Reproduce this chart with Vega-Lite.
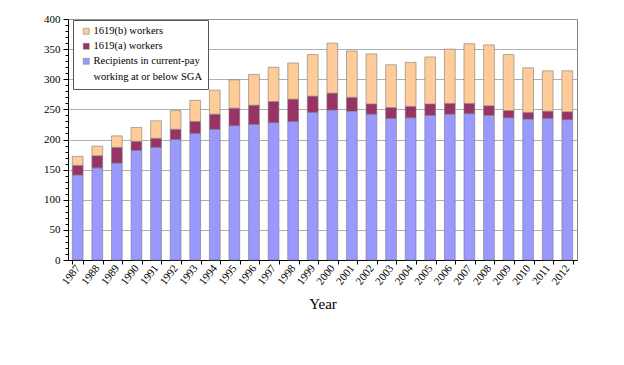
{
  "$schema": "https://vega.github.io/schema/vega-lite/v6.json",
  "autosize": {"type": "none"},
  "padding": {"left": 68, "top": 19, "right": 47, "bottom": 105},
  "width": 509,
  "height": 241,
  "background": "white",
  "config": {
    "font": "Liberation Serif",
    "view": {"stroke": "#808080", "strokeWidth": 1}
  },
  "data": {
    "values": [
      {"year": "1987", "series": "Recipients in current-pay|working at or below SGA", "k": 1, "value": 141},
      {"year": "1987", "series": "1619(a) workers", "k": 2, "value": 16},
      {"year": "1987", "series": "1619(b) workers", "k": 3, "value": 15},
      {"year": "1988", "series": "Recipients in current-pay|working at or below SGA", "k": 1, "value": 153},
      {"year": "1988", "series": "1619(a) workers", "k": 2, "value": 20},
      {"year": "1988", "series": "1619(b) workers", "k": 3, "value": 16},
      {"year": "1989", "series": "Recipients in current-pay|working at or below SGA", "k": 1, "value": 161},
      {"year": "1989", "series": "1619(a) workers", "k": 2, "value": 26},
      {"year": "1989", "series": "1619(b) workers", "k": 3, "value": 19},
      {"year": "1990", "series": "Recipients in current-pay|working at or below SGA", "k": 1, "value": 182},
      {"year": "1990", "series": "1619(a) workers", "k": 2, "value": 15},
      {"year": "1990", "series": "1619(b) workers", "k": 3, "value": 23},
      {"year": "1991", "series": "Recipients in current-pay|working at or below SGA", "k": 1, "value": 187},
      {"year": "1991", "series": "1619(a) workers", "k": 2, "value": 15},
      {"year": "1991", "series": "1619(b) workers", "k": 3, "value": 29},
      {"year": "1992", "series": "Recipients in current-pay|working at or below SGA", "k": 1, "value": 200},
      {"year": "1992", "series": "1619(a) workers", "k": 2, "value": 17},
      {"year": "1992", "series": "1619(b) workers", "k": 3, "value": 31},
      {"year": "1993", "series": "Recipients in current-pay|working at or below SGA", "k": 1, "value": 210},
      {"year": "1993", "series": "1619(a) workers", "k": 2, "value": 20},
      {"year": "1993", "series": "1619(b) workers", "k": 3, "value": 35},
      {"year": "1994", "series": "Recipients in current-pay|working at or below SGA", "k": 1, "value": 217},
      {"year": "1994", "series": "1619(a) workers", "k": 2, "value": 25},
      {"year": "1994", "series": "1619(b) workers", "k": 3, "value": 40},
      {"year": "1995", "series": "Recipients in current-pay|working at or below SGA", "k": 1, "value": 223},
      {"year": "1995", "series": "1619(a) workers", "k": 2, "value": 29},
      {"year": "1995", "series": "1619(b) workers", "k": 3, "value": 47},
      {"year": "1996", "series": "Recipients in current-pay|working at or below SGA", "k": 1, "value": 225},
      {"year": "1996", "series": "1619(a) workers", "k": 2, "value": 32},
      {"year": "1996", "series": "1619(b) workers", "k": 3, "value": 51},
      {"year": "1997", "series": "Recipients in current-pay|working at or below SGA", "k": 1, "value": 228},
      {"year": "1997", "series": "1619(a) workers", "k": 2, "value": 35},
      {"year": "1997", "series": "1619(b) workers", "k": 3, "value": 57},
      {"year": "1998", "series": "Recipients in current-pay|working at or below SGA", "k": 1, "value": 230},
      {"year": "1998", "series": "1619(a) workers", "k": 2, "value": 37},
      {"year": "1998", "series": "1619(b) workers", "k": 3, "value": 60},
      {"year": "1999", "series": "Recipients in current-pay|working at or below SGA", "k": 1, "value": 245},
      {"year": "1999", "series": "1619(a) workers", "k": 2, "value": 27},
      {"year": "1999", "series": "1619(b) workers", "k": 3, "value": 69},
      {"year": "2000", "series": "Recipients in current-pay|working at or below SGA", "k": 1, "value": 249},
      {"year": "2000", "series": "1619(a) workers", "k": 2, "value": 28},
      {"year": "2000", "series": "1619(b) workers", "k": 3, "value": 83},
      {"year": "2001", "series": "Recipients in current-pay|working at or below SGA", "k": 1, "value": 247},
      {"year": "2001", "series": "1619(a) workers", "k": 2, "value": 23},
      {"year": "2001", "series": "1619(b) workers", "k": 3, "value": 77},
      {"year": "2002", "series": "Recipients in current-pay|working at or below SGA", "k": 1, "value": 242},
      {"year": "2002", "series": "1619(a) workers", "k": 2, "value": 17},
      {"year": "2002", "series": "1619(b) workers", "k": 3, "value": 83},
      {"year": "2003", "series": "Recipients in current-pay|working at or below SGA", "k": 1, "value": 235},
      {"year": "2003", "series": "1619(a) workers", "k": 2, "value": 18},
      {"year": "2003", "series": "1619(b) workers", "k": 3, "value": 71},
      {"year": "2004", "series": "Recipients in current-pay|working at or below SGA", "k": 1, "value": 236},
      {"year": "2004", "series": "1619(a) workers", "k": 2, "value": 19},
      {"year": "2004", "series": "1619(b) workers", "k": 3, "value": 73},
      {"year": "2005", "series": "Recipients in current-pay|working at or below SGA", "k": 1, "value": 240},
      {"year": "2005", "series": "1619(a) workers", "k": 2, "value": 19},
      {"year": "2005", "series": "1619(b) workers", "k": 3, "value": 78},
      {"year": "2006", "series": "Recipients in current-pay|working at or below SGA", "k": 1, "value": 242},
      {"year": "2006", "series": "1619(a) workers", "k": 2, "value": 18},
      {"year": "2006", "series": "1619(b) workers", "k": 3, "value": 90},
      {"year": "2007", "series": "Recipients in current-pay|working at or below SGA", "k": 1, "value": 243},
      {"year": "2007", "series": "1619(a) workers", "k": 2, "value": 17},
      {"year": "2007", "series": "1619(b) workers", "k": 3, "value": 99},
      {"year": "2008", "series": "Recipients in current-pay|working at or below SGA", "k": 1, "value": 240},
      {"year": "2008", "series": "1619(a) workers", "k": 2, "value": 16},
      {"year": "2008", "series": "1619(b) workers", "k": 3, "value": 101},
      {"year": "2009", "series": "Recipients in current-pay|working at or below SGA", "k": 1, "value": 236},
      {"year": "2009", "series": "1619(a) workers", "k": 2, "value": 12},
      {"year": "2009", "series": "1619(b) workers", "k": 3, "value": 93},
      {"year": "2010", "series": "Recipients in current-pay|working at or below SGA", "k": 1, "value": 234},
      {"year": "2010", "series": "1619(a) workers", "k": 2, "value": 11},
      {"year": "2010", "series": "1619(b) workers", "k": 3, "value": 74},
      {"year": "2011", "series": "Recipients in current-pay|working at or below SGA", "k": 1, "value": 235},
      {"year": "2011", "series": "1619(a) workers", "k": 2, "value": 12},
      {"year": "2011", "series": "1619(b) workers", "k": 3, "value": 67},
      {"year": "2012", "series": "Recipients in current-pay|working at or below SGA", "k": 1, "value": 233},
      {"year": "2012", "series": "1619(a) workers", "k": 2, "value": 13},
      {"year": "2012", "series": "1619(b) workers", "k": 3, "value": 68}
    ]
  },
  "mark": {"type": "bar", "stroke": "#7a7a7a", "strokeWidth": 0.6},
  "encoding": {
    "x": {
      "field": "year",
      "type": "ordinal",
      "scale": {"paddingInner": 0.45, "paddingOuter": 0.22},
      "axis": {
        "title": "Year",
        "titleFont": "Liberation Serif",
        "titleFontSize": 15,
        "titleFontWeight": "normal",
        "titleColor": "black",
        "titlePadding": 10,
        "labelAngle": -52,
        "labelFont": "Liberation Serif",
        "labelFontSize": 11,
        "labelColor": "black",
        "domainColor": "black",
        "tickColor": "black",
        "tickBand": "extent",
        "tickSize": 4,
        "grid": false
      }
    },
    "y": {
      "field": "value",
      "type": "quantitative",
      "aggregate": "sum",
      "stack": "zero",
      "scale": {"domain": [0, 400], "nice": false},
      "axis": {
        "title": null,
        "values": [0,10,20,30,40,50,60,70,80,90,100,110,120,130,140,150,160,170,180,190,200,210,220,230,240,250,260,270,280,290,300,310,320,330,340,350,360,370,380,390,400],
        "labelExpr": "datum.value % 50 === 0 ? datum.label : ''",
        "labelFont": "Liberation Serif",
        "labelFontSize": 11,
        "labelColor": "black",
        "labelPadding": 3,
        "domainColor": "black",
        "tickColor": "black",
        "tickSize": {"condition": {"test": "datum.value % 50 === 0", "value": 5}, "value": 3},
        "grid": true,
        "gridColor": "#9a9a9a",
        "gridWidth": 0.8,
        "gridOpacity": {"condition": {"test": "datum.value % 50 === 0 && datum.value > 0", "value": 1}, "value": 0}
      }
    },
    "color": {
      "field": "series",
      "type": "nominal",
      "scale": {
        "domain": ["1619(b) workers", "1619(a) workers", "Recipients in current-pay|working at or below SGA"],
        "range": ["#FFCC99", "#993366", "#9999FF"]
      },
      "legend": {
        "title": null,
        "orient": "none",
        "legendX": 5,
        "legendY": 1,
        "labelExpr": "split(datum.label, '|')",
        "labelFont": "Liberation Serif",
        "labelFontSize": 10.5,
        "labelColor": "black",
        "labelLimit": 300,
        "symbolType": "square",
        "symbolSize": 36,
        "symbolStrokeColor": "#777777",
        "symbolStrokeWidth": 0.5,
        "strokeColor": "#555555",
        "fillColor": "white",
        "padding": 6,
        "rowPadding": 4,
        "symbolOffset": 2,
        "labelOffset": 2,
        "encode": {"labels": {"update": {"lineHeight": {"value": 16}}}}
      }
    },
    "order": {"field": "k", "type": "quantitative"}
  }
}
